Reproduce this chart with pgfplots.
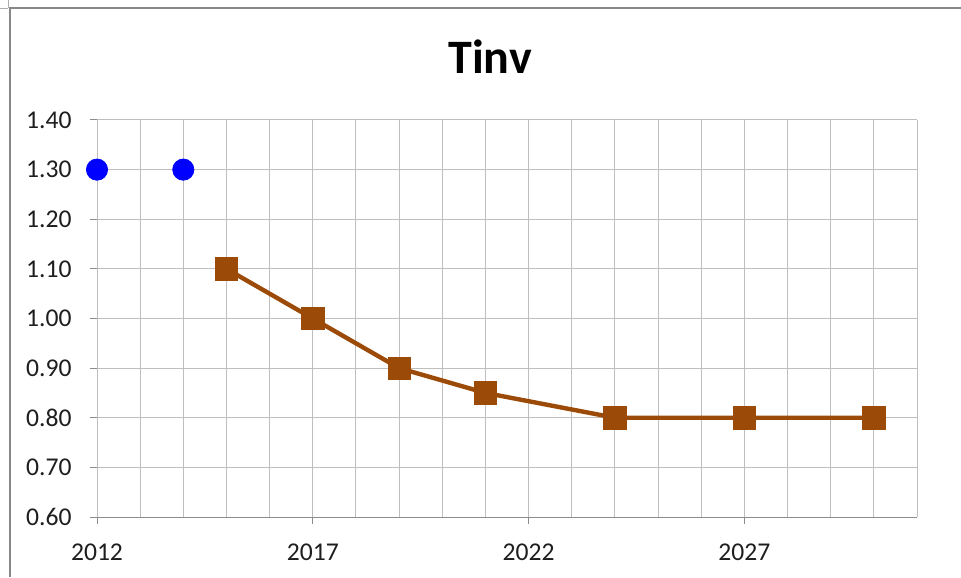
\documentclass[border=0pt]{standalone}
\usepackage{pgfplots}
\pgfplotsset{compat=1.18}
\usepackage{fontspec}
\setmainfont{Carlito}

\definecolor{gridgray}{RGB}{190,190,190}
\definecolor{axisgray}{RGB}{140,140,140}
\definecolor{framegray}{RGB}{136,136,136}
\definecolor{thingray}{RGB}{175,175,175}
\definecolor{tinvbrown}{RGB}{156,74,8}
\definecolor{ticktext}{RGB}{30,30,30}

\begin{document}
\begin{tikzpicture}
\useasboundingbox (0,0) rectangle (480.5pt,288.5pt);
% outer frame
\draw[framegray, line width=1.1pt] (5pt,0) -- (5pt,284.5pt) -- (480.5pt,284.5pt);
\draw[thingray, line width=0.5pt] (4.1pt,288.5pt) -- (4.1pt,284.6pt);
\draw[thingray, line width=0.5pt] (0,284.3pt) -- (4pt,284.3pt);
% title
\node[anchor=base, inner sep=0pt, font=\fontsize{24}{28}\selectfont\bfseries] at (245pt,251.5pt) {Tinv};
\begin{axis}[
  at={(48.5pt,30pt)}, anchor=south west,
  scale only axis, width=410pt, height=198.5pt,
  xmin=2012, xmax=2031, ymin=0.6, ymax=1.4,
  axis x line*=bottom, axis y line*=left,
  x axis line style={draw=axisgray, line width=0.5pt, -},
  y axis line style={draw=gridgray, line width=0.5pt, -},
  xtick={2012,2017,2022,2027},
  minor xtick={2013,2014,2015,2016,2018,2019,2020,2021,2023,2024,2025,2026,2028,2029,2030,2031},
  ytick={0.6,0.7,0.8,0.9,1.0,1.1,1.2,1.3,1.4},
  grid=both,
  major grid style={draw=gridgray, line width=0.5pt},
  minor grid style={draw=gridgray, line width=0.5pt},
  tick align=outside,
  major tick length=3.5pt, minor tick length=0pt,
  tick style={draw=axisgray, line width=0.5pt},
  xticklabel style={anchor=north, inner sep=0pt, yshift=-9.5pt},
  yticklabel style={anchor=east, inner sep=0pt, xshift=-9pt},
  ticklabel style={font=\fontsize{12.8}{15}\selectfont, text=ticktext},
  /pgf/number format/assume math mode=true,
  xticklabel={\pgfmathprintnumber[1000 sep={}, fixed, precision=0]{\tick}},
  yticklabel={\pgfmathprintnumber[fixed, fixed zerofill, precision=2]{\tick}},
  clip=false,
]
\addplot[only marks, mark=*, mark size=5.3pt, color=blue, mark options={draw=blue, fill=blue}]
  coordinates {(2012,1.30) (2014,1.30)};
\addplot[color=tinvbrown, line width=2.2pt, mark=square*, mark size=5.6pt,
  mark options={draw=tinvbrown, fill=tinvbrown, line width=0.3pt}]
  coordinates {(2015,1.10) (2017,1.00) (2019,0.90) (2021,0.85) (2024,0.80) (2027,0.80) (2030,0.80)};
\end{axis}
\end{tikzpicture}
\end{document}
